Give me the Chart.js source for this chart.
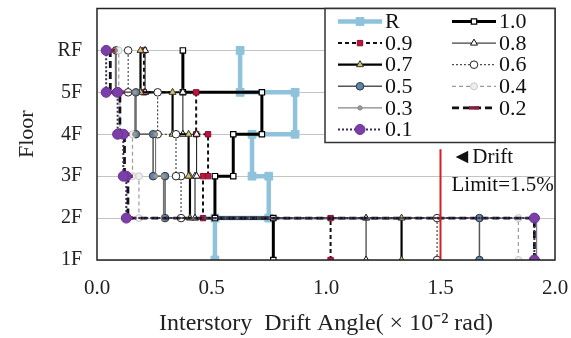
<!DOCTYPE html>
<html>
<head>
<meta charset="utf-8">
<script src="https://cdn.jsdelivr.net/npm/chart.js@4/dist/chart.umd.min.js"></script>
<style>
  html, body { margin: 0; padding: 0; background: #fff; }
  #wrap { width: 571px; height: 338px; position: relative; }
</style>
</head>
<body>
<div id="wrap"><canvas id="c" width="571" height="338"></canvas></div>
<script>
// ---- data ----
const floorLabels = ['1F', '2F', '3F', '4F', '5F', 'RF'];
const seriesNames = ['R', '1.0', '0.9', '0.8', '0.7', '0.6', '0.5', '0.4', '0.3', '0.2', '0.1'];
// interstory drift per story (1F-2F, 2F-3F, 3F-4F, 4F-5F, 5F-RF), x10^-2 rad
const driftR   = [0.515, 0.75, 0.677, 0.865, 0.625];
const drift10  = [0.77, 0.515, 0.595, 0.72, 0.375];
const drift09  = [1.02, 0.463, 0.485, 0.433, 0.205];
const drift08  = [1.175, 0.428, 0.435, 0.375, 0.21];
const drift07  = [1.33, 0.406, 0.40, 0.33, 0.19];
const drift06  = [1.485, 0.367, 0.345, 0.265, 0.136];
const drift05  = [1.67, 0.297, 0.245, 0.17, 0.083];
const drift04  = [1.84, 0.183, 0.155, 0.10, 0.095];
const drift03  = [1.92, 0.29, 0.256, 0.165, 0.08];
const drift02  = [1.91, 0.135, 0.12, 0.10, 0.058];
const drift01  = [1.91, 0.128, 0.115, 0.09, 0.04];
const xTicks = [0, 0.5, 1.0, 1.5, 2.0];
const driftLimit = 1.5;
const limitSpan = [1, 3.64];
const limitText = ['\u25C4Drift', 'Limit=1.5%'];

const allDrifts = [driftR, drift10, drift09, drift08, drift07, drift06, drift05, drift04, drift03, drift02, drift01];

const styles = [
  { c: '#8ec3db', w: 4.5, dash: [], ps: 'rect', r: 5.5, pf: '#8ec3db', pb: '#8ec3db', pw: 1 },
  { c: '#000000', w: 3, dash: [], ps: 'rect', r: 3.8, pf: '#ffffff', pb: '#000000', pw: 1.2 },
  { c: '#111111', w: 2, dash: [4, 3], ps: 'rect', r: 3.8, pf: '#c0143c', pb: '#8a1030', pw: 1 },
  { c: '#111111', w: 1, dash: [], ps: 'triangle', r: 4, pf: '#ffffff', pb: '#111111', pw: 1 },
  { c: '#000000', w: 2.2, dash: [], ps: 'triangle', r: 4, pf: '#d4c86a', pb: '#333333', pw: 1 },
  { c: '#222222', w: 1, dash: [2, 2], ps: 'circle', r: 3.8, pf: '#ffffff', pb: '#222222', pw: 1 },
  { c: '#555555', w: 1.5, dash: [], ps: 'circle', r: 3.8, pf: '#5b86b0', pb: '#333333', pw: 1 },
  { c: '#9a9a9a', w: 1.2, dash: [4, 3], ps: 'circle', r: 3.5, pf: '#eeeeee', pb: '#c8c8c8', pw: 1 },
  { c: '#666666', w: 1, dash: [], ps: 'circle', r: 2.2, pf: '#999999', pb: '#888888', pw: 1 },
  { c: '#111111', w: 2.8, dash: [7, 4], ps: 'line', r: 5, pf: '#8a2040', pb: '#8a2040', pw: 3.5 },
  { c: '#3d2a55', w: 2, dash: [2, 2], ps: 'circle', r: 5, pf: '#7b3fa8', pb: '#6a3095', pw: 1 }
];

function stepPoints(drifts) {
  const pts = [];
  drifts.forEach((d, i) => { pts.push({ x: d, y: i + 1 }); pts.push({ x: d, y: i + 2 }); });
  return pts;
}

const datasets = allDrifts.map((dr, i) => {
  const s = styles[i];
  return {
    label: seriesNames[i],
    data: stepPoints(dr),
    showLine: true,
    borderColor: s.c,
    borderWidth: s.w,
    borderDash: s.dash,
    pointStyle: s.ps,
    pointRadius: s.r,
    pointBackgroundColor: s.pf,
    pointBorderColor: s.pb,
    pointBorderWidth: s.pw,
    pointHoverRadius: s.r,
    tension: 0,
    order: 20 - i,
    isSeries: true
  };
});

datasets.push({
  label: 'limit',
  data: [{ x: driftLimit, y: limitSpan[0] }, { x: driftLimit, y: limitSpan[1] }],
  showLine: true,
  borderColor: '#d42020',
  borderWidth: 2,
  pointRadius: 0,
  order: -1,
  isSeries: false
});

const serif = "'Liberation Serif', 'Times New Roman', serif";

const framePlugin = {
  id: 'frameAndLegend',
  afterDraw(chart) {
    const ctx = chart.ctx;
    const a = chart.chartArea;
    const xs = chart.scales.x, ys = chart.scales.y;
    ctx.save();
    // frame
    ctx.strokeStyle = '#222';
    ctx.lineWidth = 1.5;
    ctx.strokeRect(a.left, a.top, a.right - a.left, a.bottom - a.top);

    // drift limit text
    ctx.fillStyle = '#111';
    ctx.font = '21px ' + serif;
    ctx.textBaseline = 'middle';
    ctx.textAlign = 'left';
    const tx = xs.getPixelForValue(driftLimit) + 11;
    ctx.fillText(limitText[0], tx, ys.getPixelForValue(3.45));
    ctx.fillText(limitText[1], tx, ys.getPixelForValue(2.78));

    // legend box
    const bx = 325, by = a.top, bw = a.right - 325, bh = 134;
    ctx.fillStyle = '#ffffff';
    ctx.fillRect(bx, by, bw, bh);
    ctx.strokeStyle = '#333';
    ctx.lineWidth = 1.5;
    ctx.strokeRect(bx, by, bw, bh);

    const series = chart.data.datasets.filter(d => d.isSeries);
    const colX = [bx + 13, bx + 127];
    const lineLen = 44;
    series.forEach((ds, i) => {
      const col = i % 2, row = Math.floor(i / 2);
      const x0 = colX[col];
      const y = by + 13 + row * 21.6;
      ctx.save();
      ctx.strokeStyle = ds.borderColor;
      ctx.lineWidth = ds.borderWidth;
      ctx.setLineDash(ds.borderDash || []);
      ctx.beginPath();
      ctx.moveTo(x0, y);
      ctx.lineTo(x0 + lineLen, y);
      ctx.stroke();
      ctx.setLineDash([]);
      ctx.fillStyle = ds.pointBackgroundColor;
      ctx.strokeStyle = ds.pointBorderColor;
      ctx.lineWidth = ds.pointBorderWidth;
      Chart.helpers.drawPoint(ctx, {
        pointStyle: ds.pointStyle,
        radius: ds.pointRadius,
        rotation: 0,
        borderWidth: ds.pointBorderWidth
      }, x0 + lineLen / 2, y);
      ctx.restore();
      ctx.fillStyle = '#111';
      ctx.font = '22px ' + serif;
      ctx.textAlign = 'left';
      ctx.textBaseline = 'middle';
      ctx.fillText(ds.label, x0 + lineLen + 3, y + 1);
    });
    ctx.restore();
  }
};

new Chart(document.getElementById('c'), {
  type: 'scatter',
  data: { datasets },
  options: {
    responsive: false,
    animation: false,
    devicePixelRatio: 1,
    layout: { padding: { top: 7, right: 16, left: 0, bottom: 0 } },
    plugins: {
      legend: { display: false },
      tooltip: { enabled: false }
    },
    scales: {
      x: {
        type: 'linear',
        min: 0,
        max: 2,
        afterBuildTicks: (scale) => { scale.ticks = xTicks.map(v => ({ value: v })); },
        afterFit: (scale) => { scale.height = 78; scale.paddingLeft = 0; scale.paddingRight = 0; },
        grid: { display: false, drawTicks: false },
        border: { display: false },
        ticks: {
          padding: 16,
          color: '#222',
          font: { family: serif, size: 21 },
          callback: (v) => Number(v).toFixed(1)
        },
        title: {
          display: true,
          text: 'Interstory  Drift Angle( \u00D7 10\u207B\u00B2 rad)',
          color: '#222',
          font: { family: serif, size: 24 },
          padding: { top: 0, bottom: 0 }
        }
      },
      y: {
        type: 'linear',
        min: 1,
        max: 7,
        afterBuildTicks: (scale) => { scale.ticks = floorLabels.map((_, i) => ({ value: i + 1 })); },
        afterFit: (scale) => { scale.width = 97; scale.paddingTop = 0; scale.paddingBottom = 0; },
        grid: { color: '#c4c4c4', lineWidth: 1, drawTicks: false },
        border: { display: false },
        ticks: {
          padding: 15,
          color: '#222',
          font: { family: serif, size: 20 },
          callback: (v) => floorLabels[Math.round(v) - 1] || ''
        },
        title: {
          display: true,
          text: 'Floor',
          color: '#222',
          font: { family: serif, size: 22 },
          padding: { top: 14, bottom: 0 }
        }
      }
    }
  },
  plugins: [framePlugin]
});
</script>
</body>
</html>
